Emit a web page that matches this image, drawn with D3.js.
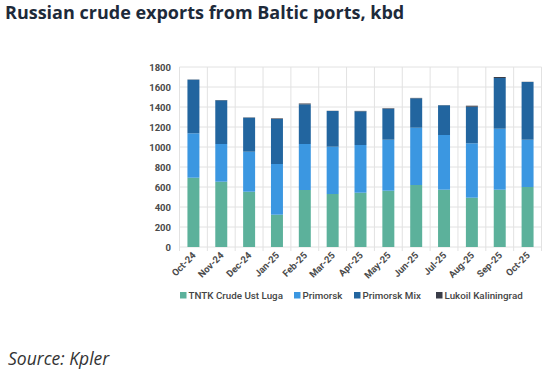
<!DOCTYPE html>
<html>
<head>
<meta charset="utf-8">
<script src="https://cdn.jsdelivr.net/npm/d3@7"></script>
<style>
body { margin: 0; background: #fff; }
text { font-family: Roboto, "Noto Sans", sans-serif; }
</style>
</head>
<body>
<svg id="svg"></svg>
<script>
var width = 559, height = 371;

var months = ["Oct-24", "Nov-24", "Dec-24", "Jan-25", "Feb-25", "Mar-25", "Apr-25",
	"May-25", "Jun-25", "Jul-25", "Aug-25", "Sep-25", "Oct-25"];
var seriesNames = ["TNTK Crude Ust Luga", "Primorsk", "Primorsk Mix", "Lukoil Kaliningrad"];
var tntk = [693, 653, 553, 323, 570, 530, 543, 563, 620, 573, 493, 573, 600];
var primorsk = [444, 377, 400, 507, 460, 473, 477, 510, 573, 547, 544, 610, 473];
var primorskMix = [536, 437, 340, 450, 397, 357, 337, 310, 294, 297, 366, 507, 577];
var lukoil = [2, 3, 3, 6, 8, 2, 4, 5, 4, 2, 10, 10, 2];
var yTicks = [0, 200, 400, 600, 800, 1000, 1200, 1400, 1600, 1800];

var colors = ["#5cb19b", "#3b97e1", "#22659f", "#3a3d48"];

var svg = d3.select("#svg")
	.attr("width", width)
	.attr("height", height);

var rows = months.map(function(m, i) {
	return { month: m, s0: tntk[i], s1: primorsk[i], s2: primorskMix[i], s3: lukoil[i] };
});
var stack = d3.stack().keys(["s0", "s1", "s2", "s3"])(rows);

var x = d3.scaleBand()
	.domain(months)
	.range([179.5, 541.5])
	.paddingInner(0.57)
	.paddingOuter(0.285);
var y = d3.scaleLinear()
	.domain([0, 1800])
	.range([247, 67]);

// grid
var grid = svg.append("g");
grid.selectAll("line.h")
	.data(yTicks)
	.enter()
	.append("line")
	.attr("x1", 179.5).attr("x2", 541.5)
	.attr("y1", function(d) { return y(d); })
	.attr("y2", function(d) { return y(d); })
	.style("stroke", "#e2e2e2");
var step = x.step();
grid.selectAll("line.v")
	.data(months.concat(["end"]))
	.enter()
	.append("line")
	.attr("x1", function(d, i) { return 179.5 + i * step; })
	.attr("x2", function(d, i) { return 179.5 + i * step; })
	.attr("y1", y(1800))
	.attr("y2", y(0) + 4)
	.style("stroke", "#e2e2e2");

// bars
svg.selectAll("g.layer")
	.data(stack)
	.enter()
	.append("g")
	.style("fill", function(d, i) { return colors[i]; })
	.selectAll("rect")
	.data(function(d) { return d; })
	.enter()
	.append("rect")
	.attr("x", function(d) { return x(d.data.month); })
	.attr("width", x.bandwidth())
	.attr("y", function(d) { return y(d[1]); })
	.attr("height", function(d) { return y(d[0]) - y(d[1]); });

// y axis labels
svg.append("g")
	.selectAll("text")
	.data(yTicks)
	.enter()
	.append("text")
	.attr("x", 171)
	.attr("y", function(d) { return y(d) + 3.5; })
	.style("text-anchor", "end")
	.style("font-size", "9.5px")
	.style("font-weight", "bold")
	.style("fill", "#4a4a4a")
	.text(function(d) { return d; });

// x axis labels
svg.append("g")
	.selectAll("text")
	.data(months)
	.enter()
	.append("text")
	.attr("transform", function(d) {
		return "translate(" + (x(d) + x.bandwidth() / 2 + 3) + "," + 256 + ") rotate(-45)";
	})
	.style("text-anchor", "end")
	.style("font-size", "9.5px")
	.style("font-weight", "bold")
	.style("fill", "#4a4a4a")
	.text(function(d) { return d; });

// legend
var legendX = [180, 294, 354, 436];
var legend = svg.append("g")
	.selectAll("g")
	.data(seriesNames)
	.enter()
	.append("g")
	.attr("transform", function(d, i) { return "translate(" + legendX[i] + ",298)"; });
legend.append("rect")
	.attr("x", 0).attr("y", -6)
	.attr("width", 6.5).attr("height", 6.5)
	.style("fill", function(d, i) { return colors[i]; });
legend.append("text")
	.attr("x", 8.5)
	.attr("y", 0.5)
	.style("font-size", "9.8px")
	.style("font-weight", "500")
	.style("fill", "#444")
	.text(function(d) { return d; });

// title and source
svg.append("text")
	.attr("x", 5)
	.attr("y", 19)
	.style("font-family", "'Open Sans', sans-serif")
	.style("font-size", "18px")
	.style("font-weight", "bold")
	.style("fill", "#1d2a3a")
	.text("Russian crude exports from Baltic ports, kbd");
svg.append("text")
	.attr("x", 8)
	.attr("y", 365)
	.style("font-family", "'Open Sans', sans-serif")
	.style("font-size", "17.5px")
	.style("font-style", "italic")
	.style("fill", "#333")
	.text("Source: Kpler");
</script>
</body>
</html>
